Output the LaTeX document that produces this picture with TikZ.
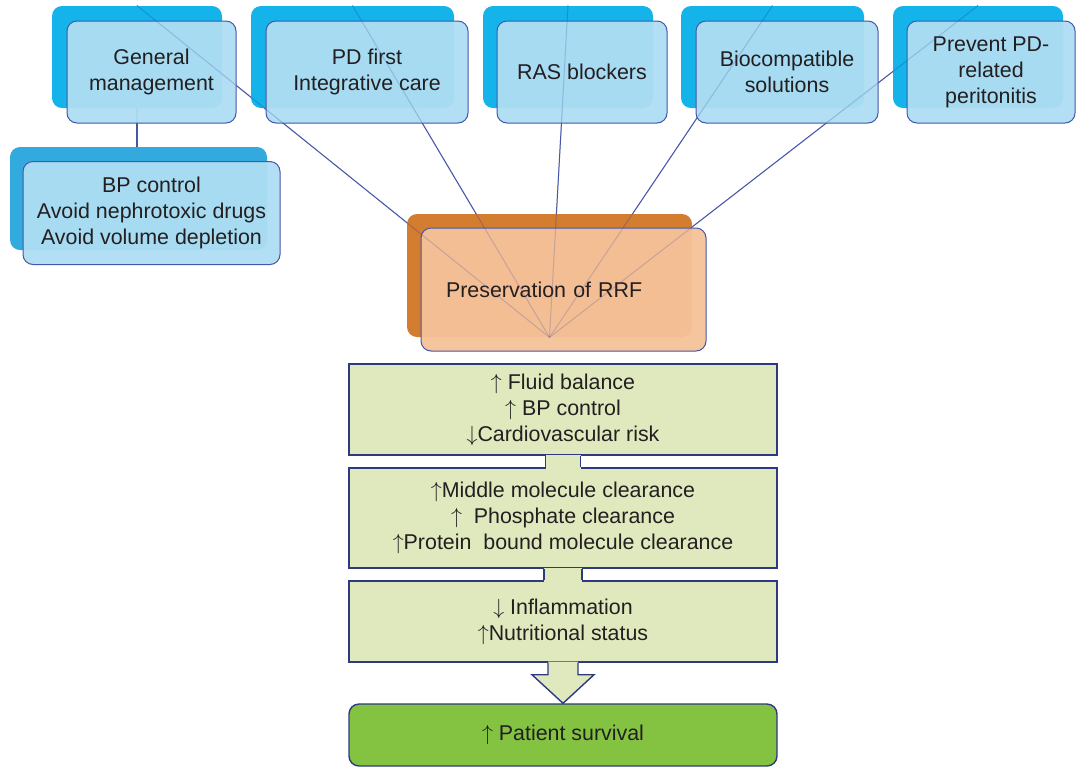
\documentclass[tikz,border=0pt]{standalone}
\usepackage{fontspec}
\setmainfont{Liberation Sans}

\pgfdeclarelayer{back}
\pgfsetlayers{back,main}

\begin{document}
\begin{tikzpicture}[x=0.5pt,y=-0.5pt,
    font=\fontsize{10.7}{13}\selectfont,
    topback/.style={fill=skyback,fill opacity=0.92,rounded corners=5pt,
      minimum height=51pt,inner sep=0pt},
    topfront/.style={fill=skyfront,fill opacity=0.95,text opacity=1,text=ink,
      draw=edgeblue,line width=0.5pt,rounded corners=5pt,
      minimum height=51pt,align=center,inner sep=2pt},
    spoke/.style={draw=edgeblue,line width=0.5pt},
    effect/.style={draw=navy,line width=0.7pt,fill=effectfill,text=ink,
      minimum width=214pt,align=center},
    neckline/.style={draw=navy,line width=0.7pt}]

    \definecolor{skyback}{HTML}{00AEEA}
    \definecolor{bpback}{HTML}{22A3DC}
    \definecolor{skyfront}{HTML}{AEDEF3}
    \definecolor{edgeblue}{HTML}{4656A8}
    \definecolor{rustback}{HTML}{D07220}
    \definecolor{peachfront}{HTML}{F5C299}
    \definecolor{effectfill}{HTML}{DFE9BD}
    \definecolor{navy}{HTML}{2E3A80}
    \definecolor{survival}{HTML}{84C341}
    \definecolor{ink}{HTML}{231F20}

    \useasboundingbox (0,0) rectangle (1076,767);
    \begin{pgfonlayer}{back}
      \fill[white] (0,0) rectangle (1076,767);
    \end{pgfonlayer}

    % top row
    \node[topback,minimum width=85pt] (genback) at (137,57) {};
    \node[topfront,minimum width=84.5pt] (gen) at (151.5,72) {General\\management};
    \node[topback,minimum width=101.5pt] (pdback) at (352.5,57) {};
    \node[topfront,minimum width=101pt] (pd) at (367,72) {PD first\\Integrative care};
    \node[topback,minimum width=85pt] (rasback) at (568,57) {};
    \node[topfront,minimum width=85pt] (ras) at (582,72) {RAS blockers};
    \node[topback,minimum width=91.5pt] (bioback) at (772.5,57) {};
    \node[topfront,minimum width=91pt] (bio) at (787,72) {Biocompatible\\solutions};
    \node[topback,minimum width=85pt] (prevback) at (978,57) {};
    \node[topfront,minimum width=84pt] (prev) at (991,72) {Prevent PD-\\related\\peritonitis};

    \node[topback,fill=bpback,minimum width=128.5pt,minimum height=51.5pt] (bpback) at (138.5,198.5) {};
    \node[topfront,minimum width=128.5pt,minimum height=51.5pt] (bp) at (151.5,213)
      {BP control\\Avoid nephrotoxic drugs\\Avoid volume depletion};

    % RRF
    \node[topback,fill=rustback,minimum width=142.5pt,minimum height=61.5pt] (rrfback) at (549.5,275.5) {};
    \node[topfront,fill=peachfront,minimum width=142.5pt,minimum height=61.5pt,
      text width=117.5pt,inner xsep=12.5pt,align=left] (rrf) at (563.5,289.5) {Preservation of RRF};

    % spokes, behind the boxes and faintly through them
    \begin{pgfonlayer}{back}
      \foreach \b in {genback,pdback,rasback,bioback,prevback}
        \draw[spoke] (\b.north) -- (rrfback.south);
      \draw[spoke,line width=0.8pt] (genback.south) -- (genback.south |- bpback.north);
    \end{pgfonlayer}
    \foreach \b in {genback,pdback,rasback,bioback,prevback}
      \draw[spoke,draw opacity=0.25] (\b.north) -- (rrfback.south);

    % effects
    \node[effect,minimum height=45.5pt] (fluid) at (563,409.5)
      {$\uparrow$ Fluid balance\\$\uparrow$ BP control\\$\downarrow$Cardiovascular risk};
    \node[effect,minimum height=50pt] (clear) at (563,518)
      {$\uparrow$Middle molecule clearance\\$\uparrow$\ \ Phosphate clearance\\$\uparrow$Protein\ \ bound molecule clearance};
    \node[effect,minimum height=40.5pt] (nutri) at (563,621.5)
      {$\downarrow$ Inflammation\\$\uparrow$Nutritional status};
    \node[effect,fill=survival,rounded corners=5pt,minimum height=31pt] (surv) at (563,735)
      {$\uparrow$ Patient survival};

    \foreach \u/\l/\w in {fluid/clear/8.75pt,clear/nutri/9.5pt} {
      \fill[effectfill] ([xshift=-\w,yshift=0.6pt]\u.south) rectangle ([xshift=\w,yshift=-0.6pt]\l.north);
      \draw[neckline] ([xshift=-\w]\u.south) -- ([xshift=-\w]\l.north);
      \draw[neckline] ([xshift=\w]\u.south) -- ([xshift=\w]\l.north);
    }

    \fill[effectfill] ([xshift=-7.5pt,yshift=0.6pt]nutri.south) -- ([xshift=-7.5pt,yshift=-6pt]nutri.south)
      -- ([xshift=-15.5pt,yshift=-6pt]nutri.south) -- (surv.north)
      -- ([xshift=15.5pt,yshift=-6pt]nutri.south) -- ([xshift=7.5pt,yshift=-6pt]nutri.south)
      -- ([xshift=7.5pt,yshift=0.6pt]nutri.south) -- cycle;
    \draw[neckline,line join=miter] ([xshift=-7.5pt]nutri.south) -- ([xshift=-7.5pt,yshift=-6pt]nutri.south)
      -- ([xshift=-15.5pt,yshift=-6pt]nutri.south) -- (surv.north)
      -- ([xshift=15.5pt,yshift=-6pt]nutri.south) -- ([xshift=7.5pt,yshift=-6pt]nutri.south)
      -- ([xshift=7.5pt]nutri.south);

\end{tikzpicture}
\end{document}
